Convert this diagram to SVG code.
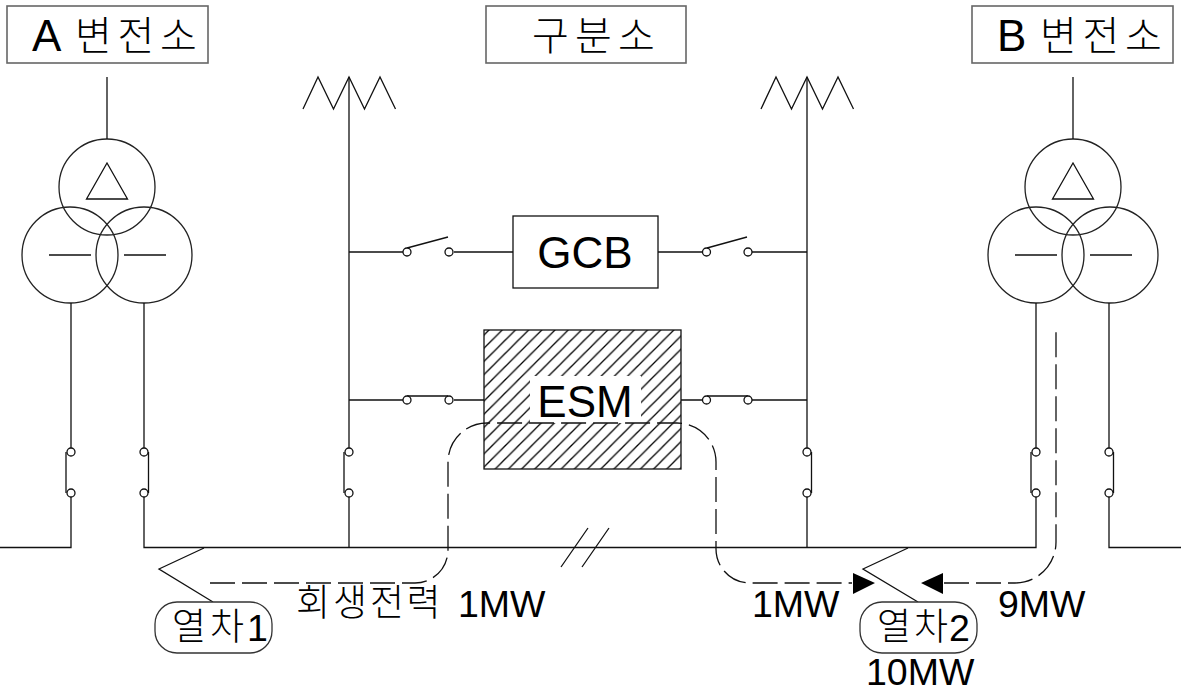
<svg xmlns="http://www.w3.org/2000/svg" width="1181" height="688" viewBox="0 0 1181 688">
<defs>
<style>
.l{fill:none;stroke:#111;stroke-width:1.3}
.c{fill:#fff;stroke:#111;stroke-width:1.3}
.o{fill:none;stroke:#222;stroke-width:1.3}
.b{fill:#fff;stroke:#666;stroke-width:1.6}
.r{fill:#fff;stroke:#333;stroke-width:1.3}
.d{fill:none;stroke:#111;stroke-width:1.3;stroke-dasharray:25 7}
.t{font-family:"Liberation Sans","Noto Sans CJK KR",sans-serif;font-size:44px;fill:#000}
.m{font-family:"Liberation Sans","Noto Sans CJK KR",sans-serif;font-size:37.500px;fill:#000}
.k{font-family:"Noto Sans CJK KR","Liberation Sans",sans-serif;font-weight:300;font-size:40px;fill:#000}
.s{font-family:"Noto Sans CJK KR","Liberation Sans",sans-serif;font-weight:300;font-size:37px;fill:#000}
</style>
<pattern id="hatch" width="13.200" height="13.200" patternUnits="userSpaceOnUse" patternTransform="translate(489 330)">
<path d="M-3.300 3.300L3.300 -3.300M0 13.200L13.200 0M9.900 16.500L16.500 9.900" stroke="#000" stroke-width="1.300" fill="none"/>
</pattern>
<g id="xf">
<circle class="o" cx="0" cy="0" r="48"/>
<circle class="o" cx="-37" cy="68" r="48"/>
<circle class="o" cx="37" cy="68" r="48"/>
<path class="l" d="M0 -24L20.500 12H-20.500ZM-58 68H-16M17 68H59M0 -48V-110"/>
</g>
<g id="tri"><path class="l" d="M-46 32L-31 0L-15.500 32L0 0L15.500 32L31 0L46.500 32"/></g>
</defs>
<g id="a-substation">
<rect class="b" x="7" y="6" width="201" height="57"/>
<text class="t" x="32" y="51">A</text><text class="k" x="75 117.500 160" y="50">변전소</text>
<use href="#xf" x="107" y="187"/>
</g>
<g id="partition">
<rect class="b" x="486" y="6" width="200" height="57"/>
<text class="k" x="532 575 618" y="50">구분소</text>
</g>
<g id="b-substation">
<rect class="b" x="972" y="6" width="201" height="57"/>
<text class="t" x="997" y="51">B</text><text class="k" x="1040 1082.500 1125" y="50">변전소</text>
<use href="#xf" x="1073" y="187"/>
</g>
<g id="catenary-left"><use href="#tri" x="349" y="77"/></g>
<g id="catenary-right"><use href="#tri" x="807" y="77"/></g>
<g id="gcb">
<rect class="c" x="513" y="216" width="145" height="72"/>
<text class="t" x="585" y="268" text-anchor="middle">GCB</text>
</g>
<g id="esm">
<rect x="484" y="330" width="197" height="139" fill="url(#hatch)" stroke="#111" stroke-width="1.300"/>
<rect x="530" y="376" width="111" height="47" fill="#fff"/>
<text class="t" x="585" y="417" text-anchor="middle">ESM</text>
</g>
<g id="connectors">
<path class="l" d="M0 547.500H71V497M71 448V303M144 303V448M144 497V547.500H1036V497M1036 448V303M1109 303V448M1109 497V547.500H1181"/>
<path class="l" d="M349 77V448M349 497V547M807 77V448M807 497V547"/>
<path class="l" d="M66 452V493M148.500 452V493M344 452V493M811.500 452V493M1031 452V493M1113.500 452V493"/>
<path class="l" d="M349 252H403M454 252H513M658 252H702M752 252H807M349 400H403M454 400H484M681 400H702M752 400H807"/>
<path class="l" d="M407 248L448 237M707 248L747 237M407 396L448 396M707 396L748 396"/>
<path class="l" d="M561 567L588 528M582 567L609 528"/>
<path class="l" d="M204 548L159 569L213 602M908 548L863 569L918 602"/>
<path class="d" d="M210 583H415A33 33 0 0 0 448 550V462A39 39 0 0 1 487 423H677A39 39 0 0 1 716 462V549A34 34 0 0 0 750 583H852"/>
<path class="d" d="M944 583H1015A41 41 0 0 0 1056 542V327"/>
<path d="M853 573L875 583L853 594ZM943 573L921 583L943 594Z" fill="#000"/>
</g>
<g id="switches" class="c">
<circle cx="71" cy="452" r="4"/><circle cx="71" cy="493" r="4"/>
<circle cx="144" cy="452" r="4"/><circle cx="144" cy="493" r="4"/>
<circle cx="349" cy="452" r="4"/><circle cx="349" cy="493" r="4"/>
<circle cx="807" cy="452" r="4"/><circle cx="807" cy="493" r="4"/>
<circle cx="1036" cy="452" r="4"/><circle cx="1036" cy="493" r="4"/>
<circle cx="1109" cy="452" r="4"/><circle cx="1109" cy="493" r="4"/>
<circle cx="407" cy="252" r="4"/><circle cx="449" cy="252" r="4"/>
<circle cx="706.500" cy="252" r="4"/><circle cx="748" cy="252" r="4"/>
<circle cx="407" cy="400" r="4"/><circle cx="449" cy="400" r="4"/>
<circle cx="706.500" cy="400" r="4"/><circle cx="748" cy="400" r="4"/>
</g>
<g id="train1">
<rect class="r" x="155" y="602" width="117" height="51" rx="22"/>
<text class="s" x="172 210" y="640">열차</text><text class="m" x="247" y="641">1</text>
</g>
<g id="train2">
<rect class="r" x="860" y="602" width="117" height="51" rx="22"/>
<text class="s" x="877 914" y="640">열차</text><text class="m" x="949" y="641">2</text>
</g>
<g id="labels">
<text class="s" x="296 333 370 406.500" y="616">회생전력</text>
<text class="m" x="458" y="617">1MW</text>
<text class="m" x="752" y="617">1MW</text>
<text class="m" x="998" y="617">9MW</text>
<text class="m" x="866" y="685">10MW</text>
</g>
</svg>
